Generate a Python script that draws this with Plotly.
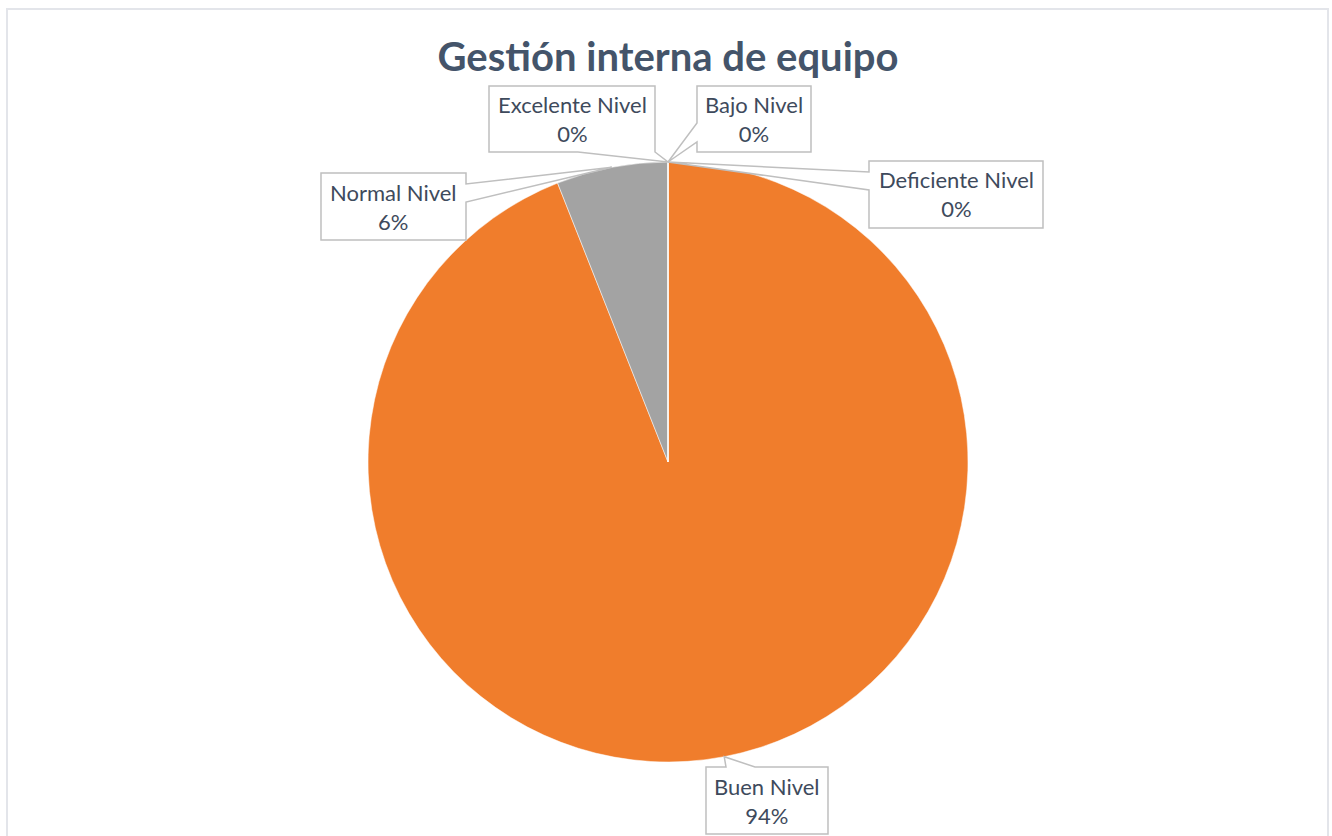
import numpy as np
import plotly.graph_objects as go

# data
labels = ["Buen Nivel", "Normal Nivel", "Excelente Nivel", "Bajo Nivel", "Deficiente Nivel"]
values = [94, 6, 0, 0, 0]
colors = ["#F07D2C", "#A3A3A3", "#5B9BD5", "#FFC000", "#4472C4"]

W, H = 1332, 836
CX, CY, R = 668, 462, 300  # pie centre / radius in px

# callout boxes (px): box, edge the pointer leaves from, pointer base
callouts = {
    "Excelente Nivel": dict(box=(489, 86, 655, 152), edge="bottom", base=(578, 655)),
    "Bajo Nivel": dict(box=(697, 86, 811, 152), edge="left", base=(123, 142)),
    "Deficiente Nivel": dict(box=(869, 161, 1043, 228), edge="left", base=(172, 190)),
    "Normal Nivel": dict(box=(321, 173, 466, 240), edge="right", base=(184, 202)),
    "Buen Nivel": dict(box=(706, 767, 828, 834), edge="top", base=(726, 755)),
}


def px(x, y):
    return x / W, 1 - y / H


total = sum(values)
cum = np.cumsum([0] + values[:-1])
pct = [f"{round(v / total * 100)}%" for v in values]

dx0, dy1 = px(CX - R, CY - R)
dx1, dy0 = px(CX + R, CY + R)

fig = go.Figure()
fig.add_trace(
    go.Pie(
        labels=labels,
        values=values,
        sort=False,
        direction="clockwise",
        rotation=0,
        textinfo="none",
        marker=dict(colors=colors, line=dict(color="white", width=0.5)),
        domain=dict(x=[dx0, dx1], y=[dy0, dy1]),
        showlegend=False,
    )
)

shapes = []
annotations = []
for lab, v, c, p in zip(labels, values, cum, pct):
    co = callouts[lab]
    theta = 2 * np.pi * (c + v / 2) / total
    ax, ay = CX + R * np.sin(theta), CY - R * np.cos(theta)
    x0, y0, x1, y1 = co["box"]
    b1, b2 = co["base"]
    e = co["edge"]
    if e == "bottom":
        pts = [(x0, y0), (x1, y0), (x1, y1), (b2, y1), (ax, ay), (b1, y1), (x0, y1)]
    elif e == "top":
        pts = [(x0, y0), (b1, y0), (ax, ay), (b2, y0), (x1, y0), (x1, y1), (x0, y1)]
    elif e == "left":
        pts = [(x0, y0), (x1, y0), (x1, y1), (x0, y1), (x0, b2), (ax, ay), (x0, b1)]
    else:
        pts = [(x0, y0), (x1, y0), (x1, b1), (ax, ay), (x1, b2), (x1, y1), (x0, y1)]
    path = "M " + " L ".join("%.5f,%.5f" % px(x, y) for x, y in pts) + " Z"
    shapes.append(
        dict(
            type="path", xref="paper", yref="paper", path=path,
            fillcolor="white", line=dict(color="#BFBFBF", width=1.5),
        )
    )
    tx, ty = px((x0 + x1) / 2, (y0 + y1) / 2)
    annotations.append(
        dict(
            x=tx, y=ty, xref="paper", yref="paper", showarrow=False,
            xanchor="center", yanchor="middle",
            text=f"{lab}<br>{p}", align="center",
            font=dict(family="Lato, Open Sans, sans-serif", size=22, color="#3E4A5C"),
        )
    )

# chart area frame
fx0, fy0 = px(7, 9)
fx1, fy1 = px(1328, 845)
shapes.append(
    dict(
        type="rect", xref="paper", yref="paper", x0=fx0, y0=fy1, x1=fx1, y1=fy0,
        line=dict(color="#E3E5EA", width=2), fillcolor="rgba(0,0,0,0)", layer="below",
    )
)

tx, ty = px(668, 57)
fig.update_layout(
    width=W,
    height=H,
    margin=dict(l=0, r=0, t=0, b=0),
    paper_bgcolor="white",
    title=dict(
        text="<b>Gestión interna de equipo</b>",
        x=tx, xanchor="center",
        y=ty, yanchor="middle",
        font=dict(family="Lato, Open Sans, sans-serif", size=40, color="#44546A"),
    ),
    shapes=shapes,
    annotations=annotations,
)

# drop the default body margin so the figure fills the window exactly
fig.write_html(
    "out.html",
    config={"displayModeBar": False},
    post_script="document.body.style.margin='0';document.body.style.overflow='hidden';",
)
